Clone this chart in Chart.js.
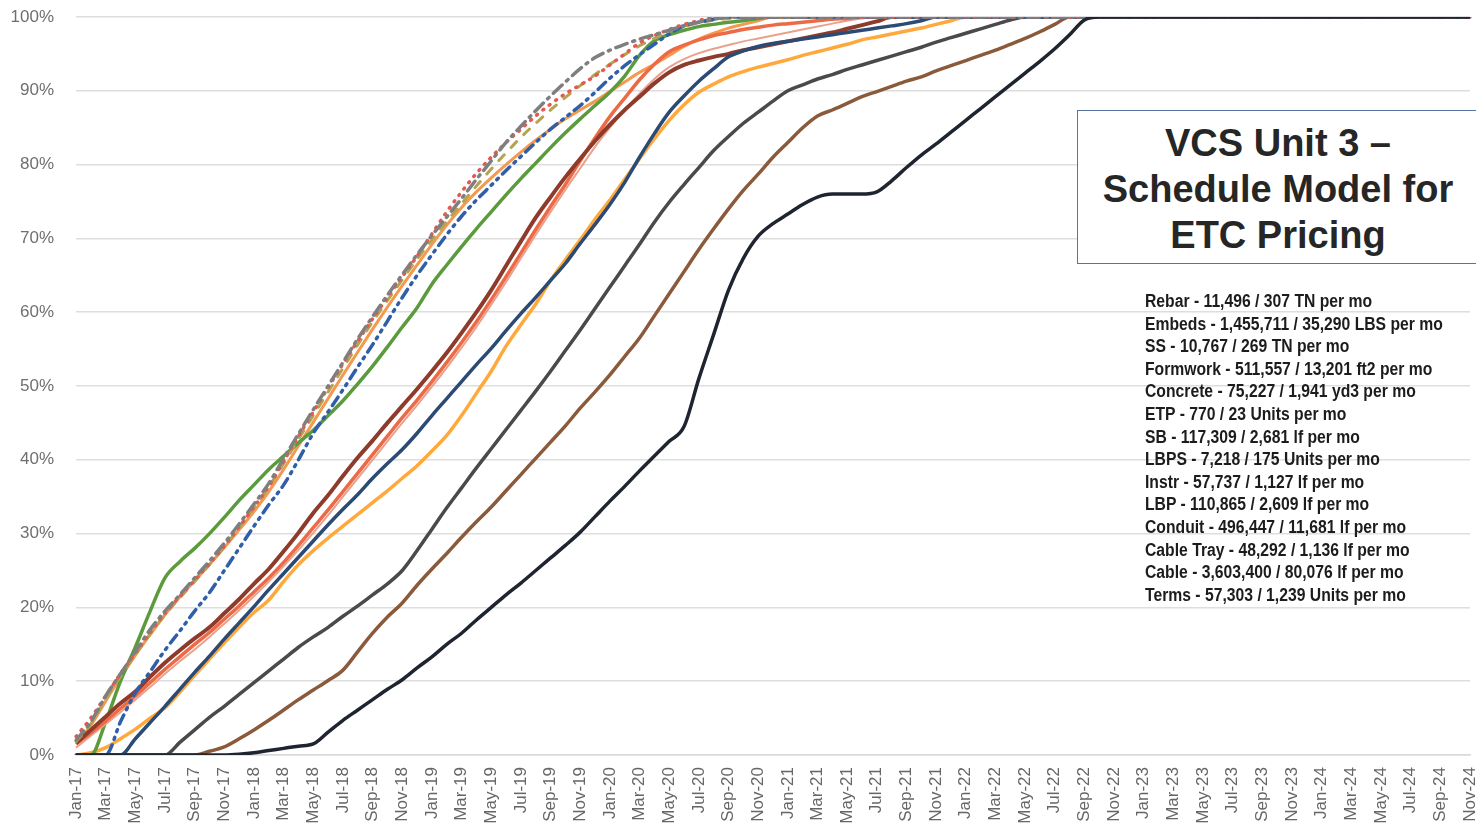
<!DOCTYPE html>
<html>
<head>
<meta charset="utf-8">
<script src="https://cdn.jsdelivr.net/npm/chart.js@4/dist/chart.umd.min.js"></script>
<style>
    html, body { margin: 0; padding: 0; background: #fff; overflow: hidden; }
    #wrap { position: absolute; left: 0; top: 0; width: 1490px; height: 830px; }
    #titleBox {
        position: absolute; left: 1077px; top: 110px; width: 402px; height: 154px;
        border: 1.5px solid #56749f; background: #fff; box-sizing: border-box;
        font: bold 38px "Liberation Sans", Arial, sans-serif; color: #262626;
        text-align: center; line-height: 46px; padding-top: 9px;
    }
    #notes {
        position: absolute; left: 1145px; top: 290px;
        font: bold 18px "Liberation Sans", Arial, sans-serif;
        color: #1c1c1c; line-height: 22.6px; white-space: nowrap;
        transform-origin: left top;
    }
</style>
</head>
<body>
<div id="wrap"><canvas id="scheduleChart"></canvas></div>
<div id="titleBox">VCS Unit 3 –<br>Schedule Model for<br>ETC Pricing</div>
<div id="notes"></div>
<script>
(function () {
    "use strict";

    // months Jan-17 .. Nov-24
    const months = [
        "Jan-17", "Feb-17", "Mar-17", "Apr-17", "May-17", "Jun-17", "Jul-17", "Aug-17", "Sep-17", "Oct-17", "Nov-17", "Dec-17",
        "Jan-18", "Feb-18", "Mar-18", "Apr-18", "May-18", "Jun-18", "Jul-18", "Aug-18", "Sep-18", "Oct-18", "Nov-18", "Dec-18",
        "Jan-19", "Feb-19", "Mar-19", "Apr-19", "May-19", "Jun-19", "Jul-19", "Aug-19", "Sep-19", "Oct-19", "Nov-19", "Dec-19",
        "Jan-20", "Feb-20", "Mar-20", "Apr-20", "May-20", "Jun-20", "Jul-20", "Aug-20", "Sep-20", "Oct-20", "Nov-20", "Dec-20",
        "Jan-21", "Feb-21", "Mar-21", "Apr-21", "May-21", "Jun-21", "Jul-21", "Aug-21", "Sep-21", "Oct-21", "Nov-21", "Dec-21",
        "Jan-22", "Feb-22", "Mar-22", "Apr-22", "May-22", "Jun-22", "Jul-22", "Aug-22", "Sep-22", "Oct-22", "Nov-22", "Dec-22",
        "Jan-23", "Feb-23", "Mar-23", "Apr-23", "May-23", "Jun-23", "Jul-23", "Aug-23", "Sep-23", "Oct-23", "Nov-23", "Dec-23",
        "Jan-24", "Feb-24", "Mar-24", "Apr-24", "May-24", "Jun-24", "Jul-24", "Aug-24", "Sep-24", "Oct-24", "Nov-24"
    ];

    const seriesNames = [
        "Rebar - 11,496 / 307 TN per mo",
        "Embeds - 1,455,711 / 35,290 LBS per mo",
        "SS - 10,767 / 269 TN per mo",
        "Formwork - 511,557 / 13,201 ft2 per mo",
        "Concrete - 75,227 / 1,941 yd3 per mo",
        "ETP - 770 / 23 Units per mo",
        "SB - 117,309 / 2,681 lf per mo",
        "LBPS - 7,218 / 175 Units per mo",
        "Instr - 57,737 / 1,127 lf per mo",
        "LBP - 110,865 / 2,609 lf per mo",
        "Conduit - 496,447 / 11,681 lf per mo",
        "Cable Tray - 48,292 / 1,136 lf per mo",
        "Cable - 3,603,400 / 80,076 lf per mo",
        "Terms - 57,303 / 1,239 Units per mo"
    ];

    // cumulative % complete, one value per month
    const rebar = [
        0, 0, 4.5, 10, 14.6, 19.5, 24, 26.2, 28, 30, 32.2, 34.5,
        36.6, 38.7, 40.5, 42.3, 44, 46, 48, 50.3, 52.7, 55.3, 58, 60.6,
        63.8, 66.4, 68.9, 71.3, 73.6, 75.9, 78.1, 80.2, 82.3, 84.3, 86.2, 88,
        89.8, 92, 94.8, 96.8, 97.6, 98.2, 98.7, 99, 99.3, 99.5, 99.8, 100,
        100, 100, 100, 100, 100, 100, 100, 100, 100, 100, 100, 100,
        100, 100, 100, 100, 100, 100, 100, 100, 100, 100, 100, 100,
        100, 100, 100, 100, 100, 100, 100, 100, 100, 100, 100, 100,
        100, 100, 100, 100, 100, 100, 100, 100, 100, 100, 100
    ];
    const embeds = [
        2, 4.5, 8, 11, 14, 17, 19.5, 21.7, 24, 26.3, 28.7, 31.3,
        34, 36.8, 40.2, 43.5, 46.8, 50, 53.2, 56.4, 59.4, 62.3, 65.1, 67.8,
        70.4, 72.9, 75.4, 78, 80.5, 83, 85.2, 87.3, 89.3, 91.2, 93, 94.5,
        95.5, 96.3, 97, 97.6, 98.2, 98.8, 99.3, 99.7, 100, 100, 100, 100,
        100, 100, 100, 100, 100, 100, 100, 100, 100, 100, 100, 100,
        100, 100, 100, 100, 100, 100, 100, 100, 100, 100, 100, 100,
        100, 100, 100, 100, 100, 100, 100, 100, 100, 100, 100, 100,
        100, 100, 100, 100, 100, 100, 100, 100, 100, 100, 100
    ];
    const ss = [
        2.5, 5, 8, 11, 13.8, 16.6, 19.2, 21.5, 23.7, 25.9, 28.3, 30.9,
        33.6, 36.4, 39.8, 43.2, 46.5, 49.8, 53, 56.1, 59.1, 62, 64.8, 67.6,
        70.6, 73.6, 76.3, 78.8, 81, 83, 84.8, 86.6, 88.2, 89.6, 90.8, 92,
        93.5, 95, 96.5, 97.5, 98.3, 99, 99.5, 100, 100, 100, 100, 100,
        100, 100, 100, 100, 100, 100, 100, 100, 100, 100, 100, 100,
        100, 100, 100, 100, 100, 100, 100, 100, 100, 100, 100, 100,
        100, 100, 100, 100, 100, 100, 100, 100, 100, 100, 100, 100,
        100, 100, 100, 100, 100, 100, 100, 100, 100, 100, 100
    ];
    const formwork = [
        1.5, 4, 7.3, 10.5, 13.5, 16.3, 19, 21.4, 23.6, 25.8, 28.1, 30.5,
        33, 35.7, 38.7, 41.9, 45.1, 48.3, 51.5, 54.6, 57.7, 60.7, 63.6, 66.4,
        69.2, 71.8, 74.2, 76.3, 78.2, 80, 81.7, 83.3, 84.8, 86.2, 87.4, 88.6,
        89.9, 91.2, 92.5, 93.6, 94.8, 96, 97, 97.8, 98.5, 99, 99.5, 100,
        100, 100, 100, 100, 100, 100, 100, 100, 100, 100, 100, 100,
        100, 100, 100, 100, 100, 100, 100, 100, 100, 100, 100, 100,
        100, 100, 100, 100, 100, 100, 100, 100, 100, 100, 100, 100,
        100, 100, 100, 100, 100, 100, 100, 100, 100, 100, 100
    ];
    const concrete = [
        0, 0, 0, 4.5, 8.4, 11.3, 14.2, 16.8, 19.5, 22, 25, 28,
        31, 33.9, 36.6, 40, 43.6, 46.5, 49.5, 52.6, 55.6, 58.8, 62, 65,
        67.8, 70.5, 73, 75.2, 77.2, 79.2, 81.1, 83, 84.8, 86.4, 88, 89.8,
        91.7, 93.4, 94.9, 96.3, 97.7, 98.8, 99.3, 99.7, 100, 100, 100, 100,
        100, 100, 100, 100, 100, 100, 100, 100, 100, 100, 100, 100,
        100, 100, 100, 100, 100, 100, 100, 100, 100, 100, 100, 100,
        100, 100, 100, 100, 100, 100, 100, 100, 100, 100, 100, 100,
        100, 100, 100, 100, 100, 100, 100, 100, 100, 100, 100
    ];
    const etp = [
        1.6, 3.4, 5.2, 7, 8.6, 10.6, 12.5, 14.2, 15.8, 17.3, 19.2, 21.1,
        23.2, 25.2, 27.6, 30.1, 32.8, 35.2, 37.8, 40.3, 42.6, 45, 47.3, 49.6,
        52, 54.5, 57.2, 60, 63, 66.3, 69.6, 72.8, 75.6, 78.3, 80.8, 83.2,
        85.4, 87.4, 89.2, 91, 92.5, 93.5, 94.1, 94.6, 95, 95.5, 95.9, 96.3,
        96.7, 97.1, 97.5, 97.9, 98.4, 98.9, 99.4, 100, 100, 100, 100, 100,
        100, 100, 100, 100, 100, 100, 100, 100, 100, 100, 100, 100,
        100, 100, 100, 100, 100, 100, 100, 100, 100, 100, 100, 100,
        100, 100, 100, 100, 100, 100, 100, 100, 100, 100, 100
    ];
    const sb = [
        1.5, 3, 4.6, 6.3, 8, 9.8, 11.6, 13.3, 15, 16.6, 18.4, 20.2,
        22.1, 24, 26.1, 28.4, 30.8, 33.2, 35.7, 38.2, 40.7, 43.2, 45.7, 48.1,
        50.6, 53.2, 55.9, 58.7, 61.7, 64.8, 68, 71.2, 74.3, 77.3, 80.5, 83.6,
        86.5, 89, 91.5, 93.6, 95.3, 96.2, 96.9, 97.5, 97.9, 98.3, 98.6, 98.9,
        99.1, 99.3, 99.5, 99.7, 99.8, 100, 100, 100, 100, 100, 100, 100,
        100, 100, 100, 100, 100, 100, 100, 100, 100, 100, 100, 100,
        100, 100, 100, 100, 100, 100, 100, 100, 100, 100, 100, 100,
        100, 100, 100, 100, 100, 100, 100, 100, 100, 100, 100
    ];
    const lbps = [
        1, 2.6, 4.2, 5.8, 7.5, 9.2, 11, 12.7, 14.3, 16, 17.8, 19.6,
        21.5, 23.5, 25.6, 27.8, 30.1, 32.5, 35, 37.5, 40, 42.5, 45, 47.4,
        49.9, 52.5, 55.2, 58, 61, 64.1, 67.3, 70.5, 73.6, 76.6, 79.5, 82.4,
        85, 87.4, 89.6, 91.6, 93.2, 94.3, 95.1, 95.7, 96.2, 96.7, 97.1, 97.5,
        97.9, 98.3, 98.7, 99.1, 99.5, 99.8, 100, 100, 100, 100, 100, 100,
        100, 100, 100, 100, 100, 100, 100, 100, 100, 100, 100, 100,
        100, 100, 100, 100, 100, 100, 100, 100, 100, 100, 100, 100,
        100, 100, 100, 100, 100, 100, 100, 100, 100, 100, 100
    ];
    const instr = [
        1.8, 4.2, 7.6, 10.6, 13.6, 16.4, 19, 21.3, 23.5, 25.8, 28.2, 30.8,
        33.5, 36.3, 39.5, 42.8, 46, 49.2, 52.4, 55.6, 58.7, 61.6, 64.4, 67.2,
        69.8, 72.3, 74.7, 77.1, 79.4, 81.6, 83.7, 85.6, 87.4, 89.1, 90.7, 92.2,
        93.6, 94.9, 96.1, 97.1, 98, 98.7, 99.2, 99.6, 99.8, 100, 100, 100,
        100, 100, 100, 100, 100, 100, 100, 100, 100, 100, 100, 100,
        100, 100, 100, 100, 100, 100, 100, 100, 100, 100, 100, 100,
        100, 100, 100, 100, 100, 100, 100, 100, 100, 100, 100, 100,
        100, 100, 100, 100, 100, 100, 100, 100, 100, 100, 100
    ];
    const lbp = [
        0, 0, 0, 0, 2.2, 4.4, 6.6, 8.9, 11.2, 13.4, 15.7, 17.9,
        20.1, 22.4, 24.6, 26.8, 29, 31.2, 33.3, 35.3, 37.5, 39.5, 41.4, 43.6,
        46, 48.3, 50.6, 52.9, 55.1, 57.5, 59.8, 62, 64.3, 66.6, 69.3, 71.9,
        74.6, 77.6, 81, 84.2, 87.1, 89.3, 91.3, 93, 94.6, 95.4, 96, 96.4,
        96.7, 97, 97.3, 97.6, 97.9, 98.2, 98.5, 98.8, 99.1, 99.5, 100, 100,
        100, 100, 100, 100, 100, 100, 100, 100, 100, 100, 100, 100,
        100, 100, 100, 100, 100, 100, 100, 100, 100, 100, 100, 100,
        100, 100, 100, 100, 100, 100, 100, 100, 100, 100, 100
    ];
    const conduit = [
        0, 0.3, 1, 2.2, 3.5, 5, 6.4, 8.5, 10.8, 13, 15.2, 17.3,
        19.3, 21, 23.5, 25.8, 27.7, 29.4, 31, 32.6, 34.2, 35.8, 37.5, 39.2,
        41.2, 43.3, 46, 49, 52, 55.4, 58.3, 61.1, 64.3, 67.1, 69.8, 72.6,
        75.2, 78, 80.8, 83.5, 86, 88.1, 89.8, 90.9, 91.9, 92.6, 93.2, 93.7,
        94.2, 94.8, 95.3, 95.8, 96.3, 96.9, 97.3, 97.7, 98.1, 98.5, 99, 99.5,
        100, 100, 100, 100, 100, 100, 100, 100, 100, 100, 100, 100,
        100, 100, 100, 100, 100, 100, 100, 100, 100, 100, 100, 100,
        100, 100, 100, 100, 100, 100, 100, 100, 100, 100, 100
    ];
    const cableTray = [
        0, 0, 0, 0, 0, 0, 0, 1.7, 3.4, 5.1, 6.6, 8.2,
        9.8, 11.4, 13, 14.6, 16, 17.3, 18.8, 20.2, 21.7, 23.2, 25, 27.7,
        30.6, 33.5, 36.2, 38.9, 41.5, 44.1, 46.7, 49.3, 52, 54.8, 57.6, 60.5,
        63.4, 66.3, 69.2, 72.2, 74.9, 77.3, 79.6, 81.9, 83.8, 85.6, 87.1, 88.6,
        90, 90.8, 91.6, 92.2, 92.9, 93.5, 94.1, 94.7, 95.3, 95.9, 96.6, 97.2,
        97.8, 98.4, 99, 99.6, 100, 100, 100, 100, 100, 100, 100, 100,
        100, 100, 100, 100, 100, 100, 100, 100, 100, 100, 100, 100,
        100, 100, 100, 100, 100, 100, 100, 100, 100, 100, 100
    ];
    const cable = [
        0, 0, 0, 0, 0, 0, 0, 0, 0, 0.5, 1.1, 2.2,
        3.4, 4.7, 6.1, 7.5, 8.8, 10.1, 11.5, 14, 16.5, 18.7, 20.6, 23,
        25.2, 27.3, 29.5, 31.6, 33.6, 35.8, 38, 40.2, 42.4, 44.6, 47, 49.2,
        51.5, 54, 56.5, 59.5, 62.5, 65.5, 68.5, 71.3, 74, 76.5, 78.7, 81,
        83, 85, 86.6, 87.4, 88.3, 89.2, 89.9, 90.6, 91.3, 91.9, 92.7, 93.4,
        94.1, 94.8, 95.5, 96.3, 97.1, 98, 99, 100, 100, 100, 100, 100,
        100, 100, 100, 100, 100, 100, 100, 100, 100, 100, 100, 100,
        100, 100, 100, 100, 100, 100, 100, 100, 100, 100, 100
    ];
    const terms = [
        0, 0, 0, 0, 0, 0, 0, 0, 0, 0, 0, 0.1,
        0.3, 0.6, 0.9, 1.2, 1.5, 3.1, 4.7, 6.1, 7.5, 8.9, 10.2, 11.8,
        13.3, 15, 16.5, 18.3, 20, 21.7, 23.3, 25, 26.7, 28.4, 30.2, 32.3,
        34.4, 36.4, 38.5, 40.5, 42.5, 44.5, 51, 57, 63, 67.3, 70.3, 72,
        73.3, 74.6, 75.6, 76, 76, 76, 76.3, 77.8, 79.6, 81.3, 82.8, 84.4,
        86, 87.6, 89.2, 90.8, 92.4, 94, 95.7, 97.6, 99.6, 100, 100, 100,
        100, 100, 100, 100, 100, 100, 100, 100, 100, 100, 100, 100,
        100, 100, 100, 100, 100, 100, 100, 100, 100, 100, 100
    ];

    const yTicks = [0, 10, 20, 30, 40, 50, 60, 70, 80, 90, 100];

    // notes block: a bold face, squeezed to the reference width
    let notes = document.getElementById("notes");
    notes.innerHTML = seriesNames.join("<br>");
    let widest = notes.getBoundingClientRect().width;
    notes.style.transform = "scaleX(" + (298 / widest).toFixed(3) + ")";

    function line(label, data, color, width, dash, order) {
        return {
            label: label,
            data: data,
            borderColor: color,
            backgroundColor: color,
            borderWidth: width,
            borderDash: dash || [],
            borderCapStyle: dash ? "round" : "butt",
            pointRadius: 0,
            fill: false,
            cubicInterpolationMode: "monotone",
            order: order,
        };
    }

    // let the layout padding alone decide the plot edges
    function noScalePadding(scale) {
        scale.paddingTop = 0;
        scale.paddingBottom = 0;
        scale.paddingLeft = 0;
        scale.paddingRight = 0;
    }

    let ctx = document.getElementById("scheduleChart").getContext("2d");
    let chart = new Chart(ctx, {
        type: "line",
        data: {
            labels: months,
            datasets: [
                line(seriesNames[0], rebar, "#5b9a3d", 3.5, null, 11),
                line(seriesNames[1], embeds, "#7f7f7f", 3.5, [12, 6, 2, 6], 1),
                line(seriesNames[2], ss, "#e45a50", 3.5, [1, 7], 2),
                line(seriesNames[3], formwork, "#f39a50", 3, null, 12),
                line(seriesNames[4], concrete, "#2f5fa8", 3.5, [10, 6, 2, 6, 2, 6], 3),
                line(seriesNames[5], etp, "#8e3b2c", 4, null, 8),
                line(seriesNames[6], sb, "#ec6a45", 3.5, null, 9),
                line(seriesNames[7], lbps, "#e9a18d", 2, null, 10),
                line(seriesNames[8], instr, "#b3a451", 3, [8, 10], 4),
                line(seriesNames[9], lbp, "#2b4a74", 3.5, null, 7),
                line(seriesNames[10], conduit, "#ffa93c", 3.5, null, 13),
                line(seriesNames[11], cableTray, "#4a4a4a", 3.5, null, 6),
                line(seriesNames[12], cable, "#8a5a3a", 3.5, null, 5),
                line(seriesNames[13], terms, "#1e2430", 3.5, null, 0),
            ],
        },
        options: {
            responsive: true,
            maintainAspectRatio: false,
            animation: false,
            layout: {
                padding: { top: 17, right: 20, left: 0, bottom: 0 },
            },
            plugins: {
                legend: { display: false },
                tooltip: { enabled: false },
            },
            scales: {
                x: {
                    grid: { display: false, drawTicks: false },
                    border: { display: true, color: "#d9d9d9", width: 1.5 },
                    afterFit: function (scale) {
                        scale.height = 75;
                        noScalePadding(scale);
                    },
                    ticks: {
                        autoSkip: false,
                        minRotation: 90,
                        maxRotation: 90,
                        padding: 12,
                        color: "#666666",
                        font: { family: "Liberation Sans", size: 17 },
                        callback: function (value, index) {
                            return index % 2 === 0 ? months[index] : "";
                        },
                    },
                },
                y: {
                    min: 0,
                    max: 100,
                    afterFit: function (scale) {
                        scale.width = 76;
                        noScalePadding(scale);
                    },
                    afterBuildTicks: function (scale) {
                        scale.ticks = yTicks.map(function (v) { return { value: v }; });
                    },
                    grid: { color: "#dedede", lineWidth: 1.5, drawTicks: false },
                    border: { display: false },
                    ticks: {
                        padding: 22,
                        color: "#6f6f6f",
                        font: { family: "Liberation Sans", size: 17 },
                        callback: function (value) { return value + "%"; },
                    },
                },
            },
        },
    });
})();
</script>
</body>
</html>
